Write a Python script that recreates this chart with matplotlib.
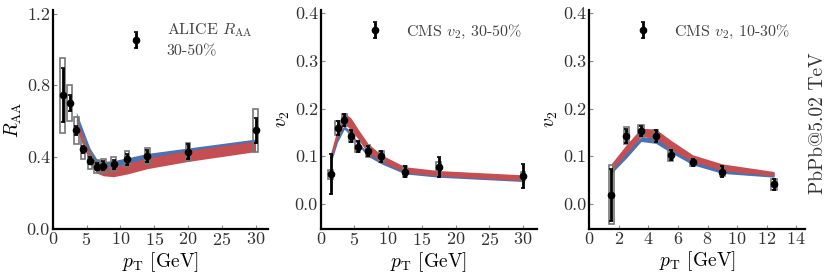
import matplotlib
matplotlib.use("Agg")
import matplotlib.pyplot as plt
from matplotlib.patches import Rectangle
import numpy as np

plt.rcParams['font.family'] = ['cmr10', 'DejaVu Serif']
plt.rcParams['mathtext.fontset'] = 'cm'
plt.rcParams['axes.unicode_minus'] = False
plt.rcParams['axes.formatter.use_mathtext'] = True

BLUE = '#4C72B0'
RED = '#C44E52'

# ---------------- Panel 1: ALICE R_AA 30-50% ----------------
raa_pt = [1.5, 2.5, 3.5, 4.5, 5.5, 6.5, 7.5, 9, 11, 14, 20, 30]
raa_val = [0.745, 0.70, 0.55, 0.443, 0.379, 0.346, 0.351, 0.359, 0.387, 0.405, 0.43, 0.55]
raa_stat = [0.15, 0.045, 0.025, 0.02, 0.02, 0.02, 0.025, 0.025, 0.03, 0.035, 0.04, 0.07]
raa_syst = [0.21, 0.10, 0.075, 0.055, 0.045, 0.035, 0.04, 0.04, 0.045, 0.045, 0.05, 0.12]

raa_band_pt = [3.5, 4.5, 5.5, 6.5, 7.5, 9, 11, 14, 20, 30]
raa_blue_hi = [0.65, 0.55, 0.45, 0.39, 0.375, 0.38, 0.395, 0.42, 0.45, 0.50]
raa_blue_lo = [0.60, 0.50, 0.41, 0.35, 0.34, 0.345, 0.36, 0.39, 0.43, 0.48]
raa_red_hi = [0.61, 0.51, 0.42, 0.36, 0.345, 0.345, 0.362, 0.395, 0.435, 0.488]
raa_red_lo = [0.56, 0.46, 0.37, 0.31, 0.295, 0.29, 0.305, 0.335, 0.375, 0.43]

# ---------------- Panel 2: CMS v2 30-50% ----------------
v2a_pt = [1.5, 2.5, 3.5, 4.5, 5.5, 7, 9, 12.5, 17.5, 30]
v2a_val = [0.062, 0.159, 0.176, 0.143, 0.120, 0.111, 0.100, 0.068, 0.078, 0.059]
v2a_stat = [0.042, 0.015, 0.012, 0.012, 0.012, 0.010, 0.012, 0.012, 0.021, 0.025]
v2a_syst = [0.010, 0.015, 0.012, 0.012, 0.012, 0.012, 0.012, 0.012, 0.010, 0.008]

v2a_band_pt = [1.5, 2.5, 3.5, 4.5, 5.5, 7, 9, 12.5, 17.5, 30]
v2a_red_hi = [0.108, 0.160, 0.192, 0.180, 0.158, 0.127, 0.103, 0.078, 0.070, 0.061]
v2a_red_lo = [0.092, 0.140, 0.169, 0.155, 0.137, 0.106, 0.089, 0.066, 0.059, 0.049]
v2a_blue_hi = [0.100, 0.145, 0.165, 0.150, 0.130, 0.108, 0.092, 0.070, 0.062, 0.053]
v2a_blue_lo = [0.085, 0.130, 0.157, 0.142, 0.124, 0.100, 0.084, 0.063, 0.056, 0.047]

# ---------------- Panel 3: CMS v2 10-30% ----------------
v2b_pt = [1.5, 2.5, 3.5, 4.5, 5.5, 7, 9, 12.5]
v2b_val = [0.019, 0.143, 0.153, 0.143, 0.103, 0.087, 0.068, 0.041]
v2b_stat = [0.055, 0.015, 0.010, 0.012, 0.010, 0.008, 0.012, 0.012]
v2b_syst = [0.062, 0.018, 0.012, 0.012, 0.012, 0.008, 0.010, 0.012]

v2b_band_pt = [1.5, 2.5, 3.5, 4.5, 5.5, 7, 9, 12.5]
v2b_red_hi = [0.085, 0.124, 0.159, 0.157, 0.134, 0.103, 0.084, 0.068]
v2b_red_lo = [0.070, 0.106, 0.141, 0.138, 0.115, 0.089, 0.070, 0.059]
v2b_blue_hi = [0.078, 0.115, 0.140, 0.140, 0.120, 0.095, 0.075, 0.066]
v2b_blue_lo = [0.064, 0.096, 0.131, 0.127, 0.108, 0.082, 0.064, 0.056]

fig = plt.figure(figsize=(8.3, 2.77), dpi=100)
bottom, height, width = 0.1744, 0.7895, 0.259
ax1 = fig.add_axes([0.0635, bottom, width, height])
ax2 = fig.add_axes([0.3864, bottom, 0.260, height])
ax3 = fig.add_axes([0.710, bottom, 0.260, height])

LEG_FS = 11.5


def draw(ax, bpt, blo, bhi, rlo, rhi, pt, val, stat, syst, boxw, label, legx, legy):
    ax.fill_between(bpt, blo, bhi, color=BLUE, lw=0, zorder=1)
    ax.fill_between(bpt, rlo, rhi, color=RED, lw=0, zorder=2)
    for x, y, s in zip(pt, val, syst):
        ax.add_patch(Rectangle((x - boxw / 2, y - s), boxw, 2 * s, facecolor='none',
                               edgecolor='#777777', lw=1.2, zorder=3))
    eb = ax.errorbar(pt, val, yerr=stat, fmt='o', color='black', ms=4.5,
                     elinewidth=2, capsize=1.5, capthick=1.2, zorder=4, label=label)
    leg = ax.legend(handles=[eb], labels=[label], loc='upper left',
                    bbox_to_anchor=(legx, legy), frameon=False, fontsize=LEG_FS,
                    handlelength=1.0, handletextpad=1.45, borderpad=0,
                    borderaxespad=0)
    for t in leg.get_texts():
        t.set_color('#444444')
        t.set_linespacing(1.55)


draw(ax1, raa_band_pt, raa_blue_lo, raa_blue_hi, raa_red_lo, raa_red_hi,
     raa_pt, raa_val, raa_stat, raa_syst, 0.7, 'ALICE $R_{\\rm AA}$\n30-50%', 0.349, 0.948)
draw(ax2, v2a_band_pt, v2a_blue_lo, v2a_blue_hi, v2a_red_lo, v2a_red_hi,
     v2a_pt, v2a_val, v2a_stat, v2a_syst, 0.7, 'CMS $v_2$, 30-50%', 0.214, 0.942)
draw(ax3, v2b_band_pt, v2b_blue_lo, v2b_blue_hi, v2b_red_lo, v2b_red_hi,
     v2b_pt, v2b_val, v2b_stat, v2b_syst, 0.35, 'CMS $v_2$, 10-30%', 0.213, 0.942)

ax1.set_xlim(0, 31.8)
ax1.set_ylim(0, 1.22)
ax1.set_xticks([0, 5, 10, 15, 20, 25, 30])
ax1.set_yticks([0.0, 0.4, 0.8, 1.2])
ax1.set_ylabel('$R_{\\rm AA}$', fontsize=14, labelpad=2)

ax2.set_xlim(0, 32)
ax2.set_ylim(-0.052, 0.407)
ax2.set_xticks([0, 5, 10, 15, 20, 25, 30])
ax2.set_yticks([0.0, 0.1, 0.2, 0.3, 0.4])
ax2.set_ylabel('$v_2$', fontsize=14, labelpad=2)

ax3.set_xlim(0, 14.6)
ax3.set_ylim(-0.052, 0.407)
ax3.set_xticks([0, 2, 4, 6, 8, 10, 12, 14])
ax3.set_yticks([0.0, 0.1, 0.2, 0.3, 0.4])
ax3.set_ylabel('$v_2$', fontsize=14, labelpad=2)

for ax in (ax1, ax2, ax3):
    ax.set_xlabel('$p_{\\rm T}$ [GeV]', fontsize=14, labelpad=1)
    for side in ('top', 'right'):
        ax.spines[side].set_visible(False)
    for side in ('left', 'bottom'):
        ax.spines[side].set_linewidth(1.6)
        ax.spines[side].set_color('black')
    ax.tick_params(direction='in', length=3, width=0.8, color='#888888',
                   labelsize=13, labelcolor='#333333', pad=2)
    ax.yaxis.set_major_formatter(matplotlib.ticker.FormatStrFormatter('%.1f'))

fig.text(0.9855, 0.556, 'PbPb@5.02 TeV', rotation=90, fontsize=14,
         color='#333333', ha='center', va='center')

fig.savefig('out.png', dpi=100)
